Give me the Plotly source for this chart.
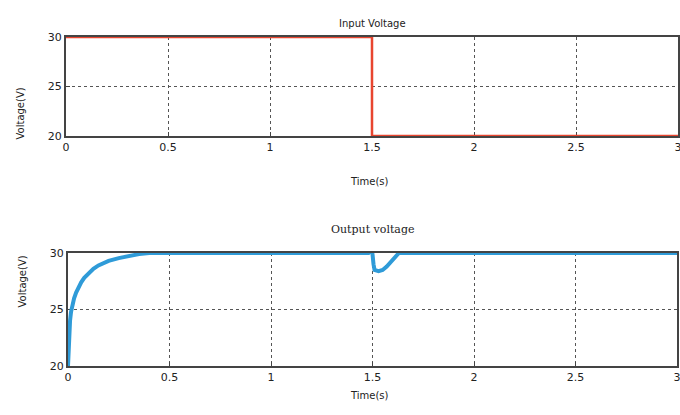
import plotly.graph_objects as go

# Input voltage step (V)
t_in = [0.0, 1.5, 1.5, 3.0]
v_in = [30, 30, 20, 20]

# Output voltage response (V)
t_out = [0.0, 0.003, 0.006, 0.01, 0.015, 0.02, 0.03, 0.04, 0.05, 0.065, 0.08, 0.1, 0.125,
         0.15, 0.175, 0.2, 0.25, 0.3, 0.35, 0.4,
         1.48, 1.49, 1.5, 1.505, 1.51, 1.53, 1.55, 1.57, 1.59, 1.61, 1.63, 3.0]
v_out = [20.0, 21.8, 23.0, 24.0, 24.8, 25.3, 26.0, 26.5, 26.9, 27.4, 27.8, 28.2, 28.6,
         28.9, 29.1, 29.3, 29.55, 29.75, 29.9, 30.0,
         30.0, 30.25, 29.9, 29.0, 28.5, 28.4, 28.5, 28.8, 29.2, 29.6, 30.0, 30.0]

x_ticks = [0, 0.5, 1, 1.5, 2, 2.5, 3]
x_ticklabels = ["0", "0.5", "1", "1.5", "2", "2.5", "3"]
y_ticks = [20, 25, 30]

W, H = 680, 415

def px_x(p):
    return p / W

def px_y(p):
    return 1 - p / H

fig = go.Figure()
fig.add_trace(go.Scatter(x=t_in, y=v_in, mode="lines",
                         line=dict(color="#e8452f", width=2.5),
                         xaxis="x", yaxis="y", showlegend=False, cliponaxis=False))
fig.add_trace(go.Scatter(x=t_out, y=v_out, mode="lines",
                         line=dict(color="#2f9bd8", width=4),
                         xaxis="x2", yaxis="y2", showlegend=False, cliponaxis=False))

axis_common = dict(
    showgrid=True, gridcolor="#555555", griddash="dot", gridwidth=1,
    showline=True, linecolor="#444444", linewidth=2, mirror=True,
    ticks="inside", ticklen=4, tickcolor="#444444",
    zeroline=False, layer="below traces", ticklabeloverflow="allow",
    automargin=False,
    tickfont=dict(family="DejaVu Sans", size=11, color="#222222"),
)

fig.update_layout(
    width=W, height=H,
    margin=dict(l=0, r=0, t=0, b=0, pad=0),
    paper_bgcolor="white", plot_bgcolor="white",
    xaxis=dict(domain=[px_x(66), px_x(678)], range=[0, 3], anchor="y",
               tickvals=x_ticks, ticktext=x_ticklabels, **axis_common),
    yaxis=dict(domain=[px_y(136), px_y(37)], range=[20, 30], anchor="x",
               tickvals=y_ticks, **axis_common),
    xaxis2=dict(domain=[px_x(68), px_x(677)], range=[0, 3], anchor="y2",
                tickvals=x_ticks, ticktext=x_ticklabels, **axis_common),
    yaxis2=dict(domain=[px_y(366), px_y(253)], range=[20, 30], anchor="x2",
                tickvals=y_ticks, **axis_common),
)

ann_font = dict(family="DejaVu Sans", size=10, color="#222222")
fig.add_annotation(text="Input Voltage", x=px_x(372), y=px_y(16), xref="paper", yref="paper",
                   showarrow=False, font=ann_font)
fig.add_annotation(text="Output voltage", x=px_x(372), y=px_y(229), xref="paper", yref="paper",
                   showarrow=False, font=dict(family="DejaVu Serif", size=11, color="#222222"))
fig.add_annotation(text="Time(s)", x=px_x(370), y=px_y(181), xref="paper", yref="paper",
                   showarrow=False, font=ann_font)
fig.add_annotation(text="Time(s)", x=px_x(370), y=px_y(403), xref="paper", yref="paper",
                   showarrow=False, font=ann_font)
fig.add_annotation(text="Voltage(V)", x=px_x(13), y=px_y(86), xref="paper", yref="paper",
                   showarrow=False, textangle=-90, font=ann_font)
fig.add_annotation(text="Voltage(V)", x=px_x(14), y=px_y(310), xref="paper", yref="paper",
                   showarrow=False, textangle=-90, font=ann_font)

fig.write_html("out.html")
